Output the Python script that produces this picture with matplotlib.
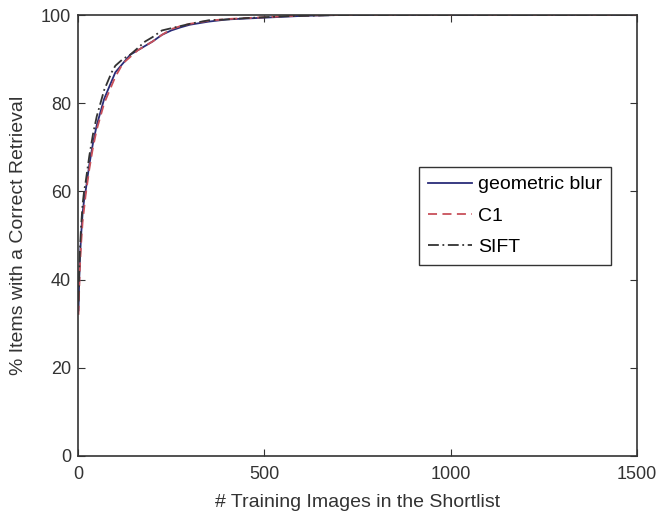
import matplotlib.pyplot as plt

# ---------- DADOS ----------
x_pts = [1, 3, 5, 8, 12, 16, 20, 25, 30, 40, 50, 60, 70, 80, 90, 100, 120, 140,
         160, 180, 200, 225, 250, 275, 300, 350, 400, 450, 500, 550, 600, 700,
         800, 1000, 1200, 1500]
geo_blur = [33, 40, 45, 50, 55, 58, 60, 63, 66, 71, 75, 78, 81, 83, 85, 87, 89, 91,
            92, 93, 94, 95.5, 96.5, 97.2, 97.8, 98.5, 99, 99.2, 99.4, 99.6, 99.8, 100,
            100, 100, 100, 100]
c1 = [32, 38, 43, 48, 53, 56, 59, 62, 65, 70, 74, 77, 80, 82, 84, 86, 89, 90.5,
      92, 93, 94, 95.5, 96.8, 97.5, 98, 98.7, 99.1, 99.3, 99.5, 99.7, 99.9, 100,
      100, 100, 100, 100]
sift = [35, 42, 47, 52, 57, 60, 62, 65, 68, 73, 77, 80, 83, 85, 87, 88.5, 90, 91,
        92.5, 94, 95, 96.5, 97, 97.5, 98, 98.8, 99, 99.3, 99.5, 99.7, 99.8, 100,
        100, 100, 100, 100]

plt.rcParams['font.family'] = ['Liberation Sans', 'DejaVu Sans']

fig = plt.figure(figsize=(6.62, 5.18), dpi=100)
ax = fig.add_axes([0.118, 0.120, 0.844, 0.851])

ax.plot(x_pts, geo_blur, color="#2a2c78", lw=1.3, ls="-", label="geometric blur")
ax.plot(x_pts, c1, color="#c8505a", lw=1.3, ls=(0, (5, 3)), label="C1")
ax.plot(x_pts, sift, color="#333333", lw=1.3, ls=(0, (6, 2, 1, 2)), label="SIFT")

ax.set_xlim(0, 1500)
ax.set_ylim(0, 100)
ax.set_xticks([0, 500, 1000, 1500])
ax.set_yticks([0, 20, 40, 60, 80, 100])
ax.tick_params(direction="in", top=True, right=True, labelsize=13, length=5,
               colors="#333333", pad=5)
ax.tick_params(axis="x", pad=7)
for s in ax.spines.values():
    s.set_linewidth(1.2)
    s.set_color("#333333")

ax.set_xlabel("# Training Images in the Shortlist", fontsize=14, color="#333333",
              labelpad=8)
ax.set_ylabel("% Items with a Correct Retrieval", fontsize=14, color="#333333",
              labelpad=10)

leg = ax.legend(loc="upper left", bbox_to_anchor=(0.610, 0.655), fontsize=14,
                fancybox=False, edgecolor="#333333", framealpha=1,
                handlelength=2.3, handletextpad=0.3, borderpad=0.45,
                labelspacing=0.7, borderaxespad=0)
leg.get_frame().set_linewidth(1.0)

plt.savefig("out.png", dpi=100)
